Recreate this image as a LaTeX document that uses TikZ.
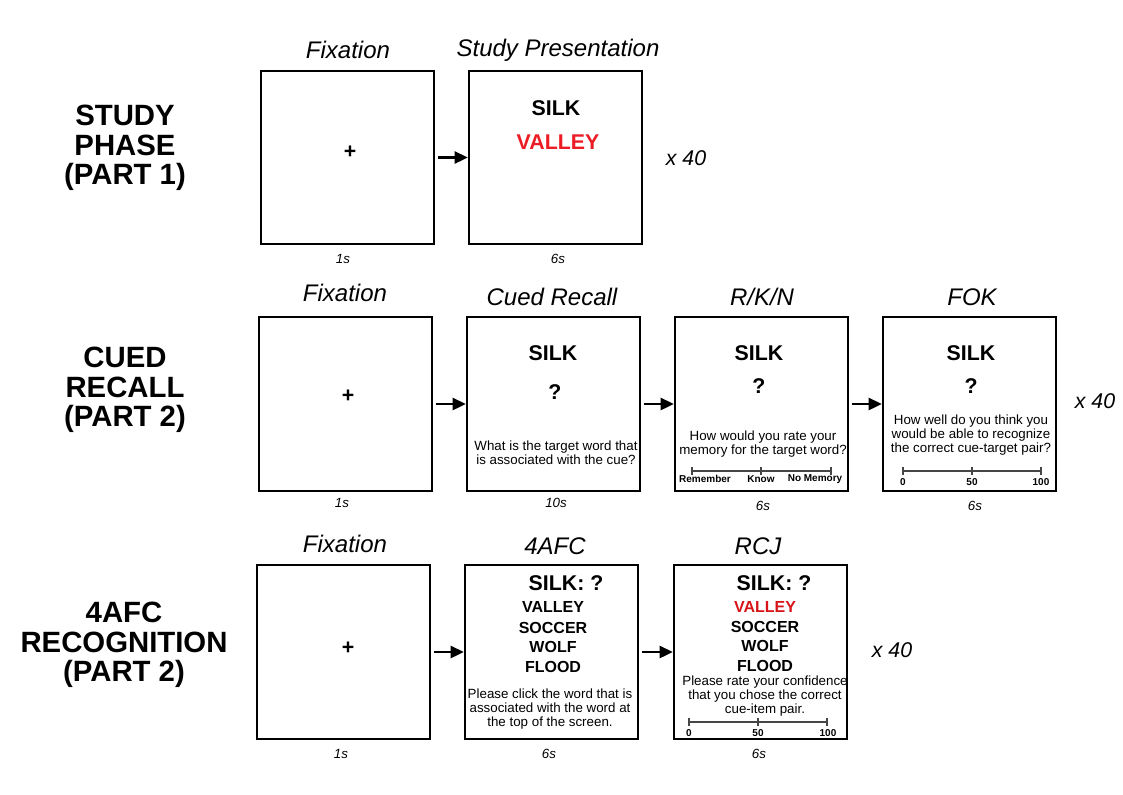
\documentclass[tikz,border=0pt]{standalone}
\usepackage{fontspec}
\setmainfont{Liberation Sans}
\usepackage{xcolor}
\usetikzlibrary{arrows.meta,positioning}
\definecolor{cuered}{RGB}{236,28,36}
\definecolor{choicered}{RGB}{214,20,24}
\definecolor{scalegray}{RGB}{70,70,70}

\begin{document}
\begin{tikzpicture}[x=0.75pt, y=-0.75pt,
    screen/.style={rectangle, draw, line width=1.4pt, minimum width=130pt, minimum height=130pt},
    title/.style={font=\fontsize{18}{20}\selectfont\itshape},
    phase/.style={font=\fontsize{22}{22}\selectfont\bfseries, align=center},
    word/.style={font=\fontsize{16}{18}\selectfont\bfseries},
    choice/.style={font=\fontsize{12}{14}\selectfont\bfseries},
    prompt/.style={font=\fontsize{10}{10.3}\selectfont, align=center},
    tick/.style={font=\fontsize{7.5}{9}\selectfont\bfseries},
    dur/.style={font=\fontsize{10}{12}\selectfont\itshape},
    reps/.style={font=\fontsize{16}{18}\selectfont\itshape},
    arr/.style={-{Triangle[length=10pt,width=9pt]}, line width=2pt, shorten <=2pt},
    scaleline/.style={draw=scalegray, line width=0.8pt}
]
\useasboundingbox (0,0) rectangle (1123,794);

% Study phase (part 1)
\node[phase] (studylbl) at (125,148) {STUDY\\PHASE\\(PART 1)};
\node[screen] (fixA) at (347.5,157.5) {};
\node[screen] (study) at (555.5,157.5) {};
\node[title] (fixAtitle) at (348,50) {Fixation};
\node[title] (studytitle) at (558,50) {Study Presentation};
\node[word] (plusA) at (350,152) {+};
\node[word] (silkA) at (556,108) {SILK};
\node[word, text=cuered] (valleyA) at (558,142) {VALLEY};
\node[dur] (fixAdur) at (343,259) {1s};
\node[dur] (studydur) at (558,259) {6s};
\node[reps] (repsA) at (686,158) {x 40};
\draw[arr] (fixA) -- (study);

% Cued recall (part 2)
\node[phase] (cuedlbl) at (125,390) {CUED\\RECALL\\(PART 2)};
\node[screen] (fixB) at (345.5,404) {};
\node[screen] (cued) at (553.5,404) {};
\node[screen] (rkn) at (761.5,404) {};
\node[screen] (fok) at (969.5,404) {};
\node[title] (fixBtitle) at (345,293) {Fixation};
\node[title] (cuedtitle) at (552,297) {Cued Recall};
\node[title] (rkntitle) at (762,297) {R/K/N};
\node[title] (foktitle) at (972,297) {FOK};
\node[word] (plusB) at (348,396) {+};
% cued recall screen
\node[word] (silkB) at (553,353) {SILK};
\node[word] (qB) at (555,392) {?};
\node[prompt] (cuedq) at (556,453) {What is the target word that\\is associated with the cue?};
% remember / know / no memory screen
\node[word] (silkC) at (759,353) {SILK};
\node[word] (qC) at (759,386) {?};
\node[prompt] (rknq) at (763,444) {How would you rate your\\memory for the target word?};
\draw[scaleline] (692,471) -- (831,471);
\draw[scaleline] (692,467) -- (692,475) (761,467) -- (761,475) (831,467) -- (831,475);
\node[tick] (remember) at (705,479) {Remember};
\node[tick] (know) at (761,479) {Know};
\node[tick] (nomemory) at (815,479) {No Memory};
% feeling of knowing screen
\node[word] (silkD) at (971,353) {SILK};
\node[word] (qD) at (971,386) {?};
\node[prompt] (fokq) at (971,435) {How well do you think you\\would be able to recognize\\the correct cue-target pair?};
\draw[scaleline] (903,471) -- (1041,471);
\draw[scaleline] (903,467) -- (903,475) (972,467) -- (972,475) (1041,467) -- (1041,475);
\node[tick] (fokzero) at (903,482) {0};
\node[tick] (fokfifty) at (972,482) {50};
\node[tick] (fokhundred) at (1041,482) {100};
\node[dur] (fixBdur) at (342,503) {1s};
\node[dur] (cueddur) at (556,503) {10s};
\node[dur] (rkndur) at (763,506) {6s};
\node[dur] (fokdur) at (975,506) {6s};
\node[reps] (repsB) at (1095,401) {x 40};
\draw[arr] (fixB) -- (cued);
\draw[arr] (cued) -- (rkn);
\draw[arr] (rkn) -- (fok);

% 4AFC recognition (part 2)
\node[phase] (afclbl) at (124,645) {4AFC\\RECOGNITION\\(PART 2)};
\node[screen] (fixC) at (343.5,652) {};
\node[screen] (afc) at (551.5,652) {};
\node[screen] (rcj) at (760.5,652) {};
\node[title] (fixCtitle) at (345,544) {Fixation};
\node[title] (afctitle) at (555,546) {4AFC};
\node[title] (rcjtitle) at (758,546) {RCJ};
\node[word] (plusC) at (348,648) {+};
% four alternative forced choice screen
\node[word] (silkE) at (566,583) {SILK: ?};
\node[choice] (valleyE) at (553,607) {VALLEY};
\node[choice] (soccerE) at (553,628) {SOCCER};
\node[choice] (wolfE) at (553,647) {WOLF};
\node[choice] (floodE) at (553,667) {FLOOD};
\node[prompt] (afcq) at (550,709) {Please click the word that is\\associated with the word at\\the top of the screen.};
% recognition confidence screen
\node[word] (silkF) at (774,583) {SILK: ?};
\node[choice, text=choicered] (valleyF) at (765,607) {VALLEY};
\node[choice] (soccerF) at (765,627) {SOCCER};
\node[choice] (wolfF) at (765,646) {WOLF};
\node[choice] (floodF) at (765,666) {FLOOD};
\node[prompt] (rcjq) at (765,696) {Please rate your confidence\\that you chose the correct\\cue-item pair.};
\draw[scaleline] (689,722) -- (827,722);
\draw[scaleline] (689,718) -- (689,726) (758,718) -- (758,726) (827,718) -- (827,726);
\node[tick] (rcjzero) at (689,733) {0};
\node[tick] (rcjfifty) at (758,733) {50};
\node[tick] (rcjhundred) at (828,733) {100};
\node[dur] (fixCdur) at (341,754) {1s};
\node[dur] (afcdur) at (549,754) {6s};
\node[dur] (rcjdur) at (759,754) {6s};
\node[reps] (repsC) at (892,650) {x 40};
\draw[arr] (fixC) -- (afc);
\draw[arr] (afc) -- (rcj);

\end{tikzpicture}
\end{document}
